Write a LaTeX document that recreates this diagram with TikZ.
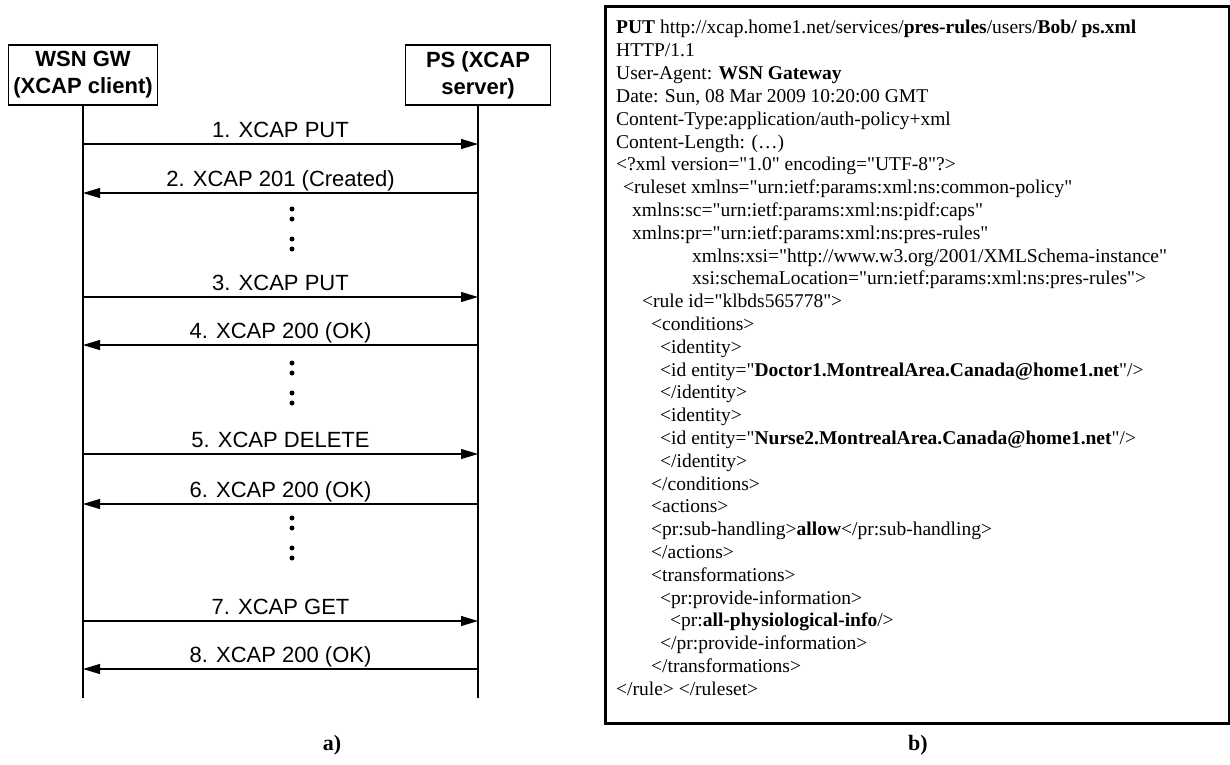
\documentclass[tikz,border=0pt]{standalone}
\usepackage{fontspec}
\setmainfont{Liberation Serif}
\newfontfamily\timesf{Liberation Serif}
\newfontfamily\arialf{Liberation Sans}
\usetikzlibrary{arrows.meta}
\tikzset{
 actor/.style={draw, line width=1.2pt, inner sep=0pt, minimum height=60pt, align=center,
   font=\arialf\bfseries\fontsize{22}{27}\selectfont},
 life/.style={line width=1.1pt},
 msg/.style={line width=1.1pt, -{Triangle[length=17pt,width=10pt]}},
 lbl/.style={font=\arialf\fontsize{22}{26}\selectfont, anchor=base, inner sep=0pt, yshift=7pt},
 dotc/.style={circle, fill, inner sep=0pt, minimum size=5pt},
 xml/.style={anchor=base west, inner sep=0pt, font=\timesf\fontsize{19.5}{22.8}\selectfont},
 captionlbl/.style={font=\timesf\bfseries\fontsize{22}{26}\selectfont, inner sep=0pt},
 xmlbox/.style={draw, line width=3pt, inner sep=0pt, anchor=north west},
}
\begin{document}
\begin{tikzpicture}[x=1pt,y=-1pt]
\useasboundingbox (0,0) rectangle (1230,764);
% ---------- a) sequence diagram ----------
\node[actor, minimum width=149pt] (gw) at (83,75) {WSN GW\\(XCAP client)};
\node[actor, minimum width=145pt] (ps) at (478,75) {PS (XCAP\\server)};
\coordinate (gwEnd) at (83,698);
\coordinate (psEnd) at (478,698);
\draw[life] (gw.south) -- (gwEnd);
\draw[life] (ps.south) -- (psEnd);
% message anchors
\coordinate (l1) at (83,144); \coordinate (r1) at (478,144);
\coordinate (l2) at (83,193); \coordinate (r2) at (478,193);
\coordinate (l3) at (83,297); \coordinate (r3) at (478,297);
\coordinate (l4) at (83,345); \coordinate (r4) at (478,345);
\coordinate (l5) at (83,454); \coordinate (r5) at (478,454);
\coordinate (l6) at (83,504); \coordinate (r6) at (478,504);
\coordinate (l7) at (83,621); \coordinate (r7) at (478,621);
\coordinate (l8) at (83,669); \coordinate (r8) at (478,669);
\draw[msg] (l1) -- node[lbl] (m1) {1. XCAP PUT} (r1);
\draw[msg] (r2) -- node[lbl] (m2) {2. XCAP 201 (Created)} (l2);
\draw[msg] (l3) -- node[lbl] (m3) {3. XCAP PUT} (r3);
\draw[msg] (r4) -- node[lbl] (m4) {4. XCAP 200 (OK)} (l4);
\draw[msg] (l5) -- node[lbl] (m5) {5. XCAP DELETE} (r5);
\draw[msg] (r6) -- node[lbl] (m6) {6. XCAP 200 (OK)} (l6);
\draw[msg] (l7) -- node[lbl] (m7) {7. XCAP GET} (r7);
\draw[msg] (r8) -- node[lbl] (m8) {8. XCAP 200 (OK)} (l8);
% dots
\node[dotc] (d1) at (292,209) {};
\node[dotc] (d2) at (292,219) {};
\node[dotc] (d3) at (292,239) {};
\node[dotc] (d4) at (292,249) {};
\node[dotc] (d5) at (292,363) {};
\node[dotc] (d6) at (292,373) {};
\node[dotc] (d7) at (292,393) {};
\node[dotc] (d8) at (292,403) {};
\node[dotc] (d9) at (292,518) {};
\node[dotc] (d10) at (292,528) {};
\node[dotc] (d11) at (292,548) {};
\node[dotc] (d12) at (292,558) {};
\node[captionlbl] (capa) at (332,745) {a)};
% ---------- b) XCAP request ----------
\node[xmlbox, minimum width=624pt, minimum height=717pt] (box) at (604,5) {};
\node[xml] (t1) at (616,33.0) {\textbf{PUT} http://xcap.home1.net/services/\textbf{pres-rules}/users/\textbf{Bob/ ps.xml}};
\node[xml] (t2) at (616,56.0) {HTTP/1.1};
\node[xml] (t3) at (616,79.0) {User-Agent: \textbf{WSN Gateway}};
\node[xml] (t4) at (616,102.0) {Date: Sun, 08 Mar 2009 10:20:00 GMT};
\node[xml] (t5) at (616,125.0) {Content-Type:application/auth-policy+xml};
\node[xml] (t6) at (616,148.0) {Content-Length: (\ldots)};
\node[xml] (t7) at (616,170.8) {<?xml version="1.0" encoding="UTF-8"?>};
\node[xml] (t8) at (623,193.6) {<ruleset xmlns="urn:ietf:params:xml:ns:common-policy"};
\node[xml] (t9) at (632,216.4) {xmlns:sc="urn:ietf:params:xml:ns:pidf:caps"};
\node[xml] (t10) at (632,239.2) {xmlns:pr="urn:ietf:params:xml:ns:pres-rules"};
\node[xml] (t11) at (692,262.0) {xmlns:xsi="http://www.w3.org/2001/XMLSchema-instance"};
\node[xml] (t12) at (692,284.8) {xsi:schemaLocation="urn:ietf:params:xml:ns:pres-rules">};
\node[xml] (t13) at (642,307.6) {<rule id="klbds565778">};
\node[xml] (t14) at (651,330.4) {<conditions>};
\node[xml] (t15) at (660,353.2) {<identity>};
\node[xml] (t16) at (660,376.0) {<id entity="\textbf{Doctor1.MontrealArea.Canada@home1.net}"/>};
\node[xml] (t17) at (660,398.8) {</identity>};
\node[xml] (t18) at (660,421.6) {<identity>};
\node[xml] (t19) at (660,444.4) {<id entity="\textbf{Nurse2.MontrealArea.Canada@home1.net}"/>};
\node[xml] (t20) at (660,467.2) {</identity>};
\node[xml] (t21) at (651,490.0) {</conditions>};
\node[xml] (t22) at (651,512.8) {<actions>};
\node[xml] (t23) at (651,535.6) {<pr:sub-handling>\textbf{allow}</pr:sub-handling>};
\node[xml] (t24) at (651,558.4) {</actions>};
\node[xml] (t25) at (651,581.2) {<transformations>};
\node[xml] (t26) at (660,604.0) {<pr:provide-information>};
\node[xml] (t27) at (670,626.8) {<pr:\textbf{all-physiological-info}/>};
\node[xml] (t28) at (660,649.6) {</pr:provide-information>};
\node[xml] (t29) at (651,672.4) {</transformations>};
\node[xml] (t30) at (616,695.2) {</rule> </ruleset>};
\node[captionlbl] (capb) at (918,745) {b)};
\end{tikzpicture}
\end{document}
